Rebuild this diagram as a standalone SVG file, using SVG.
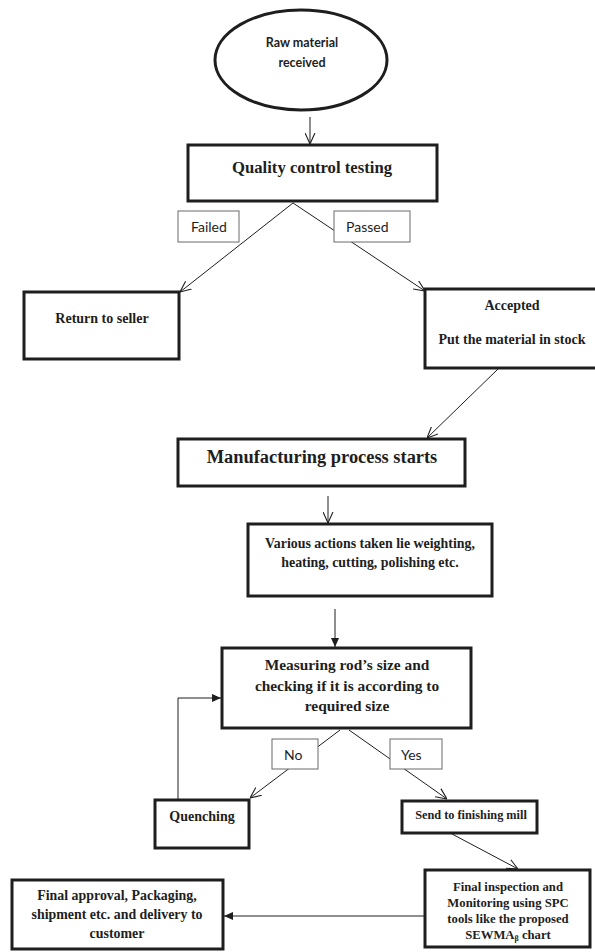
<svg xmlns="http://www.w3.org/2000/svg" width="595" height="952" viewBox="0 0 595 952">
<style>
.box{fill:#fff;stroke:#1e1e1e;stroke-width:3}
.lbl{fill:#fff;stroke:#6a6a6a;stroke-width:1}
.ser{font-family:"Liberation Serif","Times New Roman",serif;font-weight:bold;fill:#1e1e1e;text-anchor:middle}
.sans{font-family:Lato,"Open Sans",sans-serif;fill:#1e1e1e}
.con{fill:none;stroke:#1e1e1e;stroke-width:1}
</style>
<defs>
<marker id="open" viewBox="0 0 10 10" refX="10" refY="5" markerWidth="11" markerHeight="11" markerUnits="userSpaceOnUse" orient="auto">
<path d="M0,0.5 L10,5 L0,9.5" fill="none" stroke="#1e1e1e" stroke-width="1"/>
</marker>
<marker id="fill" viewBox="0 0 10 10" refX="10" refY="5" markerWidth="9" markerHeight="9" markerUnits="userSpaceOnUse" orient="auto">
<path d="M0,0.5 L10,5 L0,9.5 z" fill="#1e1e1e"/>
</marker>
</defs>
<rect width="595" height="952" fill="#fff"/>
<g id="connectors">
<line class="con" x1="310" y1="117" x2="310" y2="144" marker-end="url(#open)"/>
<line class="con" x1="293" y1="203" x2="180" y2="292" marker-end="url(#open)"/>
<line class="con" x1="293" y1="203" x2="425" y2="291" marker-end="url(#open)"/>
<line class="con" x1="498" y1="369" x2="427" y2="438" marker-end="url(#open)"/>
<line class="con" x1="328" y1="496" x2="328" y2="523" marker-end="url(#open)"/>
<line class="con" x1="335" y1="609" x2="335" y2="647" marker-end="url(#fill)"/>
<line class="con" x1="340" y1="730" x2="250" y2="798" marker-end="url(#open)"/>
<line class="con" x1="349" y1="730" x2="447" y2="799" marker-end="url(#open)"/>
<polyline class="con" points="178,800 178,698 221,698" marker-end="url(#fill)"/>
<line class="con" x1="452" y1="834" x2="518" y2="869" marker-end="url(#open)"/>
<line class="con" x1="425" y1="916" x2="224" y2="916" marker-end="url(#fill)"/>
</g>
<g id="lbl-failed">
<rect class="lbl" x="178" y="211" width="61" height="31"/>
<text class="sans" x="191" y="232" font-size="14">Failed</text>
</g>
<g id="lbl-passed">
<rect class="lbl" x="334" y="211" width="76" height="31"/>
<text class="sans" x="346" y="232" font-size="14">Passed</text>
</g>
<g id="lbl-no">
<rect class="lbl" x="272" y="739" width="46" height="30"/>
<text class="sans" x="284" y="760" font-size="14">No</text>
</g>
<g id="lbl-yes">
<rect class="lbl" x="390" y="739" width="52" height="30"/>
<text class="sans" x="401" y="760" font-size="14">Yes</text>
</g>
<g id="raw">
<ellipse class="box" cx="301" cy="60" rx="86" ry="50"/>
<text class="sans" x="302" y="47" font-size="12.5" font-weight="bold" text-anchor="middle">Raw material</text>
<text class="sans" x="302" y="67" font-size="12.5" font-weight="bold" text-anchor="middle">received</text>
</g>
<g id="quality">
<rect class="box" x="188" y="145" width="249" height="56"/>
<text class="ser" x="312" y="172.5" font-size="16.7">Quality control testing</text>
</g>
<g id="return">
<rect class="box" x="24" y="292" width="155" height="67"/>
<text class="ser" x="102" y="322.5" font-size="14">Return to seller</text>
</g>
<g id="accepted">
<rect class="box" x="425" y="289" width="180" height="79"/>
<text class="ser" x="512" y="309.5" font-size="14">Accepted</text>
<text class="ser" x="512" y="343.5" font-size="14">Put the material in stock</text>
</g>
<g id="manufacturing">
<rect class="box" x="178" y="439" width="287" height="47"/>
<text class="ser" x="322" y="463" font-size="18.4">Manufacturing process starts</text>
</g>
<g id="various">
<rect class="box" x="248" y="524" width="244" height="72"/>
<text class="ser" x="370" y="547.5" font-size="13.9">Various actions taken lie weighting,</text>
<text class="ser" x="370" y="566.5" font-size="13.9">heating, cutting, polishing etc.</text>
</g>
<g id="measuring">
<rect class="box" x="222" y="648" width="249" height="80"/>
<text class="ser" x="347" y="670" font-size="15.4">Measuring rod’s size and</text>
<text class="ser" x="347" y="691" font-size="15.4">checking if it is according to</text>
<text class="ser" x="347" y="711" font-size="15.4">required size</text>
</g>
<g id="quenching">
<rect class="box" x="155" y="800" width="94" height="48"/>
<text class="ser" x="202" y="820.5" font-size="14">Quenching</text>
</g>
<g id="send">
<rect class="box" x="402" y="801" width="135" height="32"/>
<text class="ser" x="471" y="819" font-size="12.3">Send to finishing mill</text>
</g>
<g id="inspection">
<rect class="box" x="425" y="870" width="165" height="77"/>
<text class="ser" x="508" y="890.5" font-size="12.7">Final inspection and</text>
<text class="ser" x="508" y="906.5" font-size="12.7">Monitoring using SPC</text>
<text class="ser" x="508" y="922.5" font-size="12.7">tools like the proposed</text>
<text class="ser" x="508" y="938.5" font-size="12.7">SEWMA<tspan font-size="8" dy="2">β</tspan><tspan dy="-2"> chart</tspan></text>
</g>
<g id="approval">
<rect class="box" x="12" y="880" width="211" height="69"/>
<text class="ser" x="117" y="900" font-size="13.9">Final approval, Packaging,</text>
<text class="ser" x="117" y="919" font-size="13.9">shipment etc. and delivery to</text>
<text class="ser" x="117" y="938" font-size="13.9">customer</text>
</g>
</svg>
